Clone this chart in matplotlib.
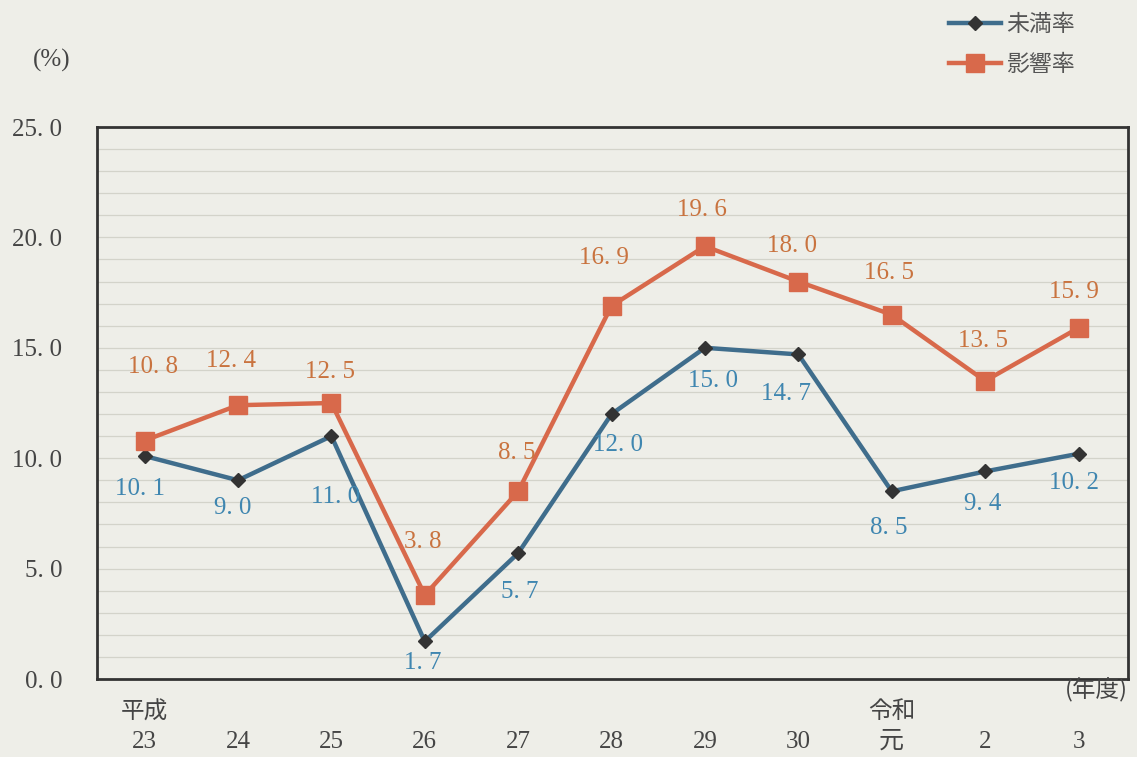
import matplotlib
matplotlib.use("Agg")
import matplotlib.pyplot as plt
import numpy as np

plt.rcParams['font.family'] = ['Liberation Serif', 'Noto Sans CJK JP']

years = ["23", "24", "25", "26", "27", "28", "29", "30", "元", "2", "3"]
era_labels = {0: "平成", 8: "令和"}
miman = [10.1, 9.0, 11.0, 1.7, 5.7, 12.0, 15.0, 14.7, 8.5, 9.4, 10.2]
eikyo = [10.8, 12.4, 12.5, 3.8, 8.5, 16.9, 19.6, 18.0, 16.5, 13.5, 15.9]
yticks = [0, 5, 10, 15, 20, 25]

# label offsets in pixels (dx, dy)
miman_off = [(-5, -33), (-5, -28), (4, -61), (-2, -22), (2, -39), (6, -31), (8, -33), (-12, -40), (-3, -37), (-2, -33), (-5, -29)]
eikyo_off = [(8, 74), (-7, 44), (-1, 31), (-2, 53), (-1, 38), (-8, 48), (-3, 36), (-6, 36), (-3, 42), (-2, 40), (-5, 36)]

bg = "#eeeee8"
blue = "#3f6d8c"
blue_txt = "#3f86b0"
orange = "#d8694b"
orange_txt = "#c9733f"
txt = "#454545"
FS = 18

W, H = 1137, 757
fig = plt.figure(figsize=(W / 100, H / 100), dpi=100, facecolor=bg)
ax = fig.add_axes([97 / W, 1 - 679 / H, (1128 - 97) / W, (679 - 127) / H])
ax.set_facecolor(bg)

x = np.arange(len(years))
ax.set_xlim(-0.51, 10.53)
ax.set_ylim(0, 25)

for v in range(1, 25):
    ax.axhline(v, color="#d3d3ca", lw=0.9, zorder=0)

l1, = ax.plot(x, miman, color=blue, lw=3.2, marker="D", markersize=7,
              markerfacecolor="#333333", markeredgecolor="#333333", zorder=3, label="未満率")
l2, = ax.plot(x, eikyo, color=orange, lw=3.2, marker="s", markersize=13,
              markerfacecolor=orange, markeredgecolor=orange, zorder=4, label="影響率")

def fmt(v):
    return f"{v:.1f}".replace(".", ". ")

for i, v in enumerate(miman):
    ax.annotate(fmt(v), (x[i], v), xytext=miman_off[i], textcoords="offset pixels",
                ha="center", va="center", color=blue_txt, fontsize=FS, zorder=5)
for i, v in enumerate(eikyo):
    ax.annotate(fmt(v), (x[i], v), xytext=eikyo_off[i], textcoords="offset pixels",
                ha="center", va="center", color=orange_txt, fontsize=FS, zorder=5)

ax.set_yticks(yticks)
ax.set_yticklabels([fmt(float(t)) for t in yticks], fontsize=FS, color=txt)
ax.tick_params(axis="y", length=0, pad=25)
ax.set_xticks(x)
ax.set_xticklabels([""] * len(x))
ax.tick_params(axis="x", length=0)

for i, s in enumerate(years):
    ax.annotate(s, (x[i], 0), xytext=(0, -63), textcoords="offset pixels",
                ha="center", va="center", fontsize=FS, color=txt,
                annotation_clip=False)
for i, s in era_labels.items():
    ax.annotate(s, (x[i], 0), xytext=(0, -33), textcoords="offset pixels",
                ha="center", va="center", fontsize=17, color=txt,
                family=['Noto Sans CJK JP'], annotation_clip=False)

for sp in ax.spines.values():
    sp.set_color("#333333")
    sp.set_linewidth(2)

fig.text(52 / W, 1 - 60 / H, "(%)", ha="center", va="center", fontsize=FS, color=txt)
fig.text(1096 / W, 1 - 690 / H, "(年度)", ha="center", va="center", fontsize=17,
         color=txt, family=['Noto Sans CJK JP'])

leg = fig.legend(handles=[l1, l2], loc="upper left", bbox_to_anchor=(928 / W, 1 + 8 / H),
                 frameon=False, handlelength=2.3, handletextpad=0.2,
                 labelspacing=0.75, prop={'family': ['Noto Sans CJK JP'], 'size': 16.5})
for t in leg.get_texts():
    t.set_color("#555555")

fig.savefig("out.png", dpi=100, facecolor=bg)
